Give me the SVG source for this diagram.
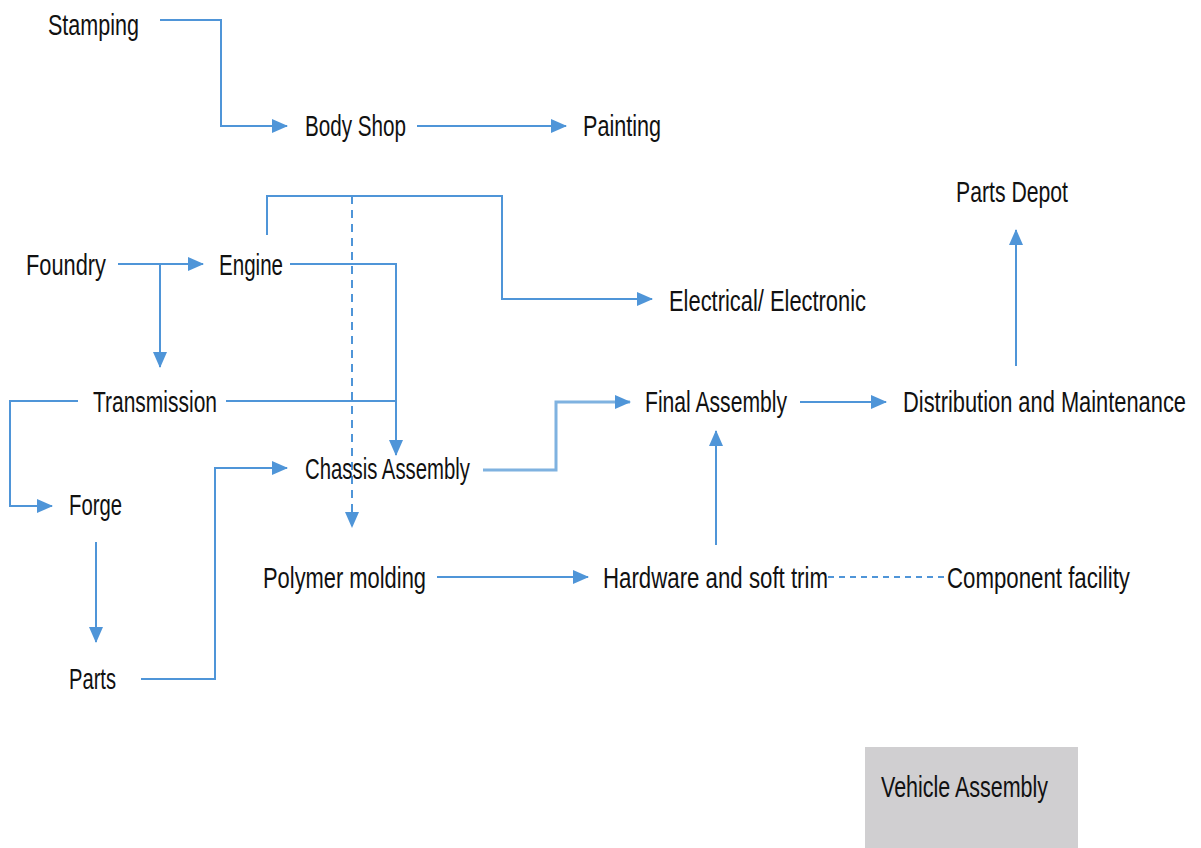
<svg xmlns="http://www.w3.org/2000/svg" width="1201" height="848" viewBox="0 0 1201 848">
<style>
.t{font-family:"Liberation Sans",Arial,sans-serif;font-size:30px;fill:#111;}
.c{fill:none;stroke:#4f95d8;stroke-width:2;}
.d{fill:none;stroke:#4f95d8;stroke-width:2;stroke-dasharray:8,6;}
</style>
<defs>
<marker id="a" viewBox="0 0 16 14" refX="15" refY="7" markerWidth="16" markerHeight="14" markerUnits="userSpaceOnUse" orient="auto">
<path d="M0,0 L16,7 L0,14 z" fill="#4f95d8"/>
</marker>
</defs>
<rect x="0" y="0" width="1201" height="848" fill="#fff"/>
<g id="connectors">
<path class="c" d="M160,20 H221 V126 H287" marker-end="url(#a)"/>
<path class="c" d="M417,126 H566" marker-end="url(#a)"/>
<path class="c" d="M118,264 H203" marker-end="url(#a)"/>
<path class="c" d="M160,264 V367" marker-end="url(#a)"/>
<path class="c" d="M267,235 V196 H502 V299 H652" marker-end="url(#a)"/>
<path class="d" d="M352,196 V527" marker-end="url(#a)"/>
<path class="c" d="M290,264 H396 V455" marker-end="url(#a)"/>
<path class="c" d="M226,401 H396"/>
<path class="c" d="M78,401 H10 V506 H52" marker-end="url(#a)"/>
<path class="c" d="M96,542 V642" marker-end="url(#a)"/>
<path class="c" d="M141,679 H215 V468 H287" marker-end="url(#a)"/>
<path class="c" d="M483,470 H556 V402 H630" marker-end="url(#a)" style="stroke:#7fb2e0;stroke-width:3"/>
<path class="c" d="M800,402 H886" marker-end="url(#a)"/>
<path class="c" d="M1016,366 V230" marker-end="url(#a)"/>
<path class="c" d="M716,545 V431" marker-end="url(#a)"/>
<path class="c" d="M437,577 H588" marker-end="url(#a)"/>
<path class="d" d="M828,577 H948" style="stroke-dasharray:6,5"/>
</g>
<g id="stamping"><text class="t" x="48" y="35" textLength="91" lengthAdjust="spacingAndGlyphs">Stamping</text></g>
<g id="body-shop"><text class="t" x="305" y="136" textLength="101" lengthAdjust="spacingAndGlyphs">Body Shop</text></g>
<g id="painting"><text class="t" x="583" y="136" textLength="78" lengthAdjust="spacingAndGlyphs">Painting</text></g>
<g id="parts-depot"><text class="t" x="956" y="202" textLength="112" lengthAdjust="spacingAndGlyphs">Parts Depot</text></g>
<g id="foundry"><text class="t" x="26" y="275" textLength="80" lengthAdjust="spacingAndGlyphs">Foundry</text></g>
<g id="engine"><text class="t" x="219" y="275" textLength="64" lengthAdjust="spacingAndGlyphs">Engine</text></g>
<g id="electrical"><text class="t" x="669" y="311" textLength="197" lengthAdjust="spacingAndGlyphs">Electrical/ Electronic</text></g>
<g id="transmission"><text class="t" x="93" y="412" textLength="124" lengthAdjust="spacingAndGlyphs">Transmission</text></g>
<g id="final-assembly"><text class="t" x="645" y="412" textLength="142" lengthAdjust="spacingAndGlyphs">Final Assembly</text></g>
<g id="distribution"><text class="t" x="903" y="412" textLength="283" lengthAdjust="spacingAndGlyphs">Distribution and Maintenance</text></g>
<g id="chassis"><text class="t" x="305" y="479" textLength="165" lengthAdjust="spacingAndGlyphs">Chassis Assembly</text></g>
<g id="forge"><text class="t" x="69" y="515" textLength="53" lengthAdjust="spacingAndGlyphs">Forge</text></g>
<g id="polymer"><text class="t" x="263" y="588" textLength="163" lengthAdjust="spacingAndGlyphs">Polymer molding</text></g>
<g id="hardware"><text class="t" x="603" y="588" textLength="225" lengthAdjust="spacingAndGlyphs">Hardware and soft trim</text></g>
<g id="component"><text class="t" x="947" y="588" textLength="183" lengthAdjust="spacingAndGlyphs">Component facility</text></g>
<g id="parts"><text class="t" x="69" y="689" textLength="47" lengthAdjust="spacingAndGlyphs">Parts</text></g>
<g id="vehicle-assembly">
<rect x="865" y="747" width="213" height="101" fill="#d0cfd1"/>
<text class="t" x="881" y="797" textLength="167" lengthAdjust="spacingAndGlyphs">Vehicle Assembly</text>
</g>
</svg>
